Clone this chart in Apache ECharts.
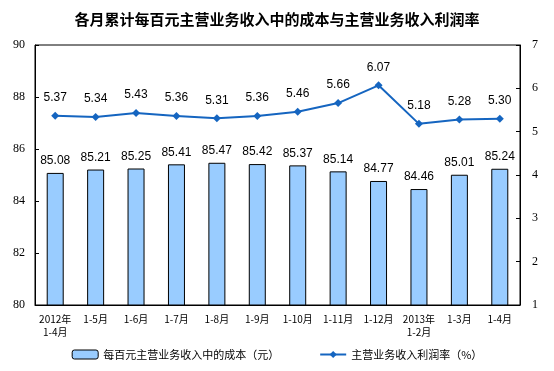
<!DOCTYPE html>
<html><head><meta charset="utf-8">
<script src="https://cdn.jsdelivr.net/npm/echarts@6/dist/echarts.min.js"></script>
<style>html,body{margin:0;padding:0;background:#fff}#c{width:554px;height:371px}</style>
</head><body><div id="c"></div>
<script>
const categories = ['2012年\n1-4月','1-5月','1-6月','1-7月','1-8月','1-9月','1-10月','1-11月','1-12月','2013年\n1-2月','1-3月','1-4月'];
const costValues = [85.08, 85.21, 85.25, 85.41, 85.47, 85.42, 85.37, 85.14, 84.77, 84.46, 85.01, 85.24];
const profitRate = [5.37, 5.34, 5.43, 5.36, 5.31, 5.36, 5.46, 5.66, 6.07, 5.18, 5.28, 5.30];
const titleText = '各月累计每百元主营业务收入中的成本与主营业务收入利润率';
const barName = '每百元主营业务收入中的成本（元）';
const lineName = '主营业务收入利润率（%）';

const cjk = '"Noto Sans CJK SC", sans-serif';
const serif = '"Liberation Serif", "DejaVu Serif", serif';
const chart = echarts.init(document.getElementById('c'), null, {renderer: 'canvas'});
chart.setOption({
  animation: false,
  backgroundColor: '#fff',
  title: {text: titleText, left: 'center', top: 7,
    textStyle: {fontFamily: cjk, fontSize: 15, fontWeight: 'bold', color: '#000'}},
  grid: {left: 35, right: 34, top: 45, bottom: 66, show: true, borderColor: '#000', borderWidth: 1},
  legend: {bottom: 6, left: 'center', itemGap: 40, itemWidth: 26, itemHeight: 9,
    textStyle: {fontFamily: cjk, fontSize: 11, color: '#000'},
    data: [{name: barName, itemStyle: {color: '#99CCFF', borderColor: '#000', borderWidth: 1}}, {name: lineName}]},
  xAxis: {type: 'category', data: categories,
    axisLine: {lineStyle: {color: '#000'}},
    axisTick: {inside: true, length: 4, lineStyle: {color: '#000'}},
    axisLabel: {fontFamily: cjk, fontSize: 10, color: '#000', margin: 8, interval: 0, lineHeight: 13}},
  yAxis: [
    {type: 'value', min: 80, max: 90, interval: 2, splitLine: {show: false},
      axisLine: {show: true, lineStyle: {color: '#000'}},
      axisTick: {show: true, inside: true, length: 4, lineStyle: {color: '#000'}},
      axisLabel: {fontFamily: serif, fontSize: 12, color: '#000', margin: 10}},
    {type: 'value', min: 1, max: 7, interval: 1, splitLine: {show: false},
      axisLine: {show: true, lineStyle: {color: '#000'}},
      axisTick: {show: true, inside: true, length: 4, lineStyle: {color: '#000'}},
      axisLabel: {fontFamily: serif, fontSize: 12, color: '#000', margin: 12}}
  ],
  series: [
    {name: barName, type: 'bar', data: costValues, barWidth: 17,
      itemStyle: {color: '#99CCFF', borderColor: '#000', borderWidth: 1},
      label: {show: true, position: 'top', distance: 6, fontFamily: '"Liberation Sans", Arial, sans-serif', fontSize: 12, color: '#000',
        formatter: p => p.value.toFixed(2)}},
    {name: lineName, type: 'line', yAxisIndex: 1, data: profitRate,
      symbol: 'diamond', symbolSize: 8, lineStyle: {color: '#1565C0', width: 2},
      itemStyle: {color: '#1565C0'},
      label: {show: true, position: 'top', distance: 8, fontFamily: '"Liberation Sans", Arial, sans-serif', fontSize: 12, color: '#000',
        formatter: p => p.value.toFixed(2)}}
  ]
});
</script></body></html>
